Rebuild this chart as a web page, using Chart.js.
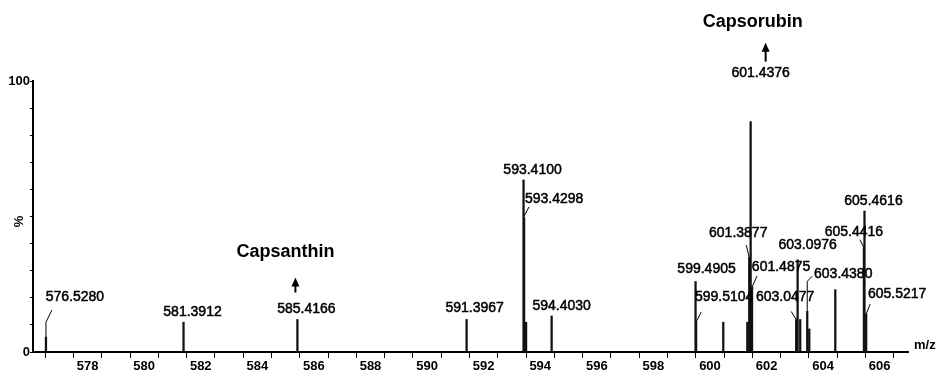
<!DOCTYPE html>
<html>
<head>
<meta charset="utf-8">
<script src="https://cdn.jsdelivr.net/npm/chart.js@4.4.1/dist/chart.umd.min.js"></script>
<style>
  body { margin: 0; background: #fff; }
  canvas { display: block; }
</style>
</head>
<body>
<canvas id="chart" width="938" height="376"></canvas>
<script>
// peak positions (m/z) and relative intensities (%)
const peakMz = [576.5280, 581.3912, 585.4166, 591.3967, 593.4100, 593.4298, 593.50, 594.4030,
    599.4905, 599.5104, 600.47, 601.32, 601.3877, 601.4376, 601.4875, 603.0477, 603.0976,
    603.19, 603.4380, 603.51, 604.43, 605.4416, 605.4616, 605.5217];
const peakIntensity = [5.5, 11, 12, 12, 63.5, 49.5, 11, 13.3,
    26, 11, 11, 11, 35, 85, 24, 12, 34,
    12, 15, 8.5, 23, 38.5, 52, 14];
const peakLabels = ['576.5280', '581.3912', '585.4166', '591.3967', '593.4100', '593.4298', null, '594.4030',
    '599.4905', '599.5104', null, null, '601.3877', '601.4376', '601.4875', '603.0477', '603.0976',
    null, '603.4380', null, null, '605.4416', '605.4616', '605.5217'];

const compoundNames = ['Capsanthin', 'Capsorubin'];
const compoundMz = [585.4166, 601.4376];

const xMin = 576.07;
const xMax = 607;

// where each peak label sits relative to the top of its peak (px)
const labelOffsets = {
    '576.5280': { dx: 29, dy: -40, leader: [[0, 0], [0, -15], [6, -27]] },
    '581.3912': { dx: 9, dy: -10 },
    '585.4166': { dx: 9, dy: -10 },
    '591.3967': { dx: 8, dy: -11 },
    '593.4100': { dx: 9, dy: -10 },
    '593.4298': { dx: 30, dy: -19, leader: [[0, -2], [5, -11]] },
    '594.4030': { dx: 10, dy: -10 },
    '599.4905': { dx: 11, dy: -12 },
    '599.5104': { dx: 28, dy: -25, leader: [[0, 0], [5, -10]] },
    '601.3877': { dx: -11, dy: -24, leader: [[0, 0], [-3, -12]] },
    '601.4376': { dx: 10, dy: -49 },
    '601.4875': { dx: 29, dy: -20, leader: [[0, 0], [5, -11]] },
    '603.0477': { dx: -11, dy: -22, leader: [[0, 0], [-5, -8]] },
    '603.0976': { dx: 10, dy: -15 },
    '603.4380': { dx: 36, dy: -37, leader: [[0, 0], [0, -30], [5, -35]] },
    '605.4416': { dx: -10, dy: -16, leader: [[0, 0], [-4, -8]] },
    '605.4616': { dx: 9, dy: -10 },
    '605.5217': { dx: 31, dy: -20, leader: [[0, 0], [4, -10]] }
};
// arrow + compound name, relative to the peak top
const compoundOffsets = [
    { arrowDx: -2, tipDy: -42, baseDy: -27, nameDx: -12, nameDy: -67 },
    { arrowDx: 15, tipDy: -79, baseDy: -60, nameDx: 2, nameDy: -100 }
];

const FONT = '"Liberation Sans", Arial, sans-serif';

const peakAnnotations = {
    id: 'peakAnnotations',
    afterDatasetsDraw(chart) {
        const ctx = chart.ctx;
        const xs = chart.scales.x, ys = chart.scales.y;
        ctx.save();
        ctx.fillStyle = '#000';
        ctx.strokeStyle = '#000';
        ctx.textAlign = 'center';
        ctx.textBaseline = 'middle';

        peakMz.forEach((mz, i) => {
            const text = peakLabels[i];
            if (!text) return;
            const off = labelOffsets[text];
            const px = xs.getPixelForValue(mz);
            const py = ys.getPixelForValue(peakIntensity[i]);
            ctx.lineWidth = 1;
            if (off.leader) {
                ctx.beginPath();
                off.leader.forEach((p, k) => {
                    if (k === 0) ctx.moveTo(px + p[0], py + p[1]);
                    else ctx.lineTo(px + p[0], py + p[1]);
                });
                ctx.stroke();
            }
            // the scanned labels look heavy, so thicken the glyphs a little
            ctx.font = '14px ' + FONT;
            ctx.lineWidth = 0.5;
            ctx.fillText(text, px + off.dx, py + off.dy);
            ctx.strokeText(text, px + off.dx, py + off.dy);
        });

        // compound names with arrows
        compoundNames.forEach((name, i) => {
            const idx = peakMz.indexOf(compoundMz[i]);
            const off = compoundOffsets[i];
            const px = xs.getPixelForValue(compoundMz[i]);
            const py = ys.getPixelForValue(peakIntensity[idx]);
            const ax = px + off.arrowDx;
            ctx.beginPath();
            ctx.moveTo(ax, py + off.tipDy);
            ctx.lineTo(ax - 4, py + off.tipDy + 9);
            ctx.lineTo(ax + 4, py + off.tipDy + 9);
            ctx.closePath();
            ctx.fill();
            ctx.fillRect(ax - 1, py + off.tipDy + 6, 2, off.baseDy - off.tipDy - 6);
            ctx.font = 'bold 18px ' + FONT;
            ctx.fillText(name, px + off.nameDx, py + off.nameDy);
        });

        // axis titles
        ctx.font = 'bold 13px ' + FONT;
        ctx.textAlign = 'left';
        ctx.fillText('m/z', xs.right + 6, ys.bottom - 7);
        ctx.translate(19, (ys.top + ys.bottom) / 2 + 5);
        ctx.rotate(-Math.PI / 2);
        ctx.textAlign = 'center';
        ctx.fillText('%', 0, 0);
        ctx.restore();
    }
};

const ctx = document.getElementById('chart').getContext('2d');
new Chart(ctx, {
    type: 'bar',
    data: {
        datasets: [{
            data: peakMz.map((mz, i) => ({ x: mz, y: peakIntensity[i] })),
            backgroundColor: '#111',
            borderWidth: 0,
            barThickness: 1.6
        }]
    },
    options: {
        responsive: false,
        animation: false,
        devicePixelRatio: 1,
        layout: { padding: { top: 81, right: 30, left: 0, bottom: 0 } },
        plugins: {
            legend: { display: false },
            tooltip: { enabled: false }
        },
        scales: {
            x: {
                type: 'linear',
                min: xMin,
                max: xMax,
                offset: false,
                afterFit: s => { s.height = 24; },
                border: { color: '#000', width: 2 },
                grid: { drawOnChartArea: false, drawTicks: true, tickLength: 6, color: '#000', lineWidth: 1 },
                ticks: {
                    stepSize: 1,
                    includeBounds: false,
                    autoSkip: false,
                    maxRotation: 0,
                    padding: 1,
                    color: '#000',
                    font: { family: FONT, size: 13, weight: 'bold' },
                    callback: v => (v % 2 === 0 ? String(v) : '')
                }
            },
            y: {
                min: 0,
                max: 100,
                afterFit: s => { s.width = 33; },
                border: { color: '#000', width: 2 },
                grid: { drawOnChartArea: false, drawTicks: true, tickLength: 3, color: '#000', lineWidth: 1 },
                ticks: {
                    stepSize: 10,
                    autoSkip: false,
                    padding: 0,
                    color: '#000',
                    font: { family: FONT, size: 13, weight: 'bold' },
                    callback: v => (v === 0 || v === 100 ? String(v) : '')
                }
            }
        }
    },
    plugins: [peakAnnotations]
});
</script>
</body>
</html>
